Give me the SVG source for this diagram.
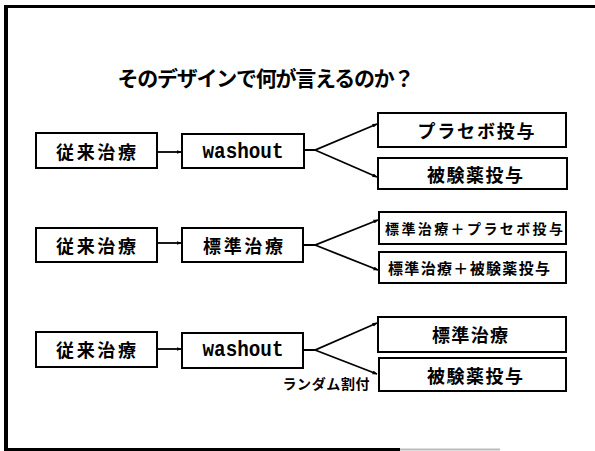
<svg xmlns="http://www.w3.org/2000/svg" width="595" height="451" viewBox="0 0 595 451">
<style>
.box{fill:#fff;stroke:#000;stroke-width:2}
.t{font-family:"Noto Sans CJK JP","Noto Sans CJK SC",sans-serif;font-weight:bold;fill:#000;text-anchor:middle;dominant-baseline:central}
.m{font-family:"Liberation Mono","DejaVu Sans Mono",monospace;font-weight:bold;fill:#000;text-anchor:middle;dominant-baseline:central}
.c{fill:none;stroke:#000;stroke-width:1.8}
</style>
<defs>
<marker id="ah" viewBox="0 0 10 10" refX="9" refY="5" markerWidth="5" markerHeight="5" orient="auto" markerUnits="userSpaceOnUse"><path d="M0,1 L10,5 L0,9 z" fill="#000"/></marker>
</defs>
<rect width="595" height="451" fill="#fff"/>
<g id="frame">
<line x1="4" y1="6.5" x2="595" y2="6.5" stroke="#000" stroke-width="3"/>
<line x1="6" y1="5" x2="6" y2="451" stroke="#000" stroke-width="4"/>
<line x1="4" y1="449.5" x2="400" y2="449.5" stroke="#000" stroke-width="3"/>
<line x1="400" y1="449.5" x2="500" y2="449.5" stroke="#bbb" stroke-width="2"/>
</g>
<g id="title"><text class="t" x="266" y="77" font-size="21" textLength="297" lengthAdjust="spacing">そのデザインで何が言えるのか？</text></g>
<g id="r1a"><rect class="box" x="36" y="133" width="121" height="35"/><text class="t" x="96" y="151" font-size="18" textLength="80" lengthAdjust="spacing">従来治療</text></g>
<g id="r1b"><rect class="box" x="182" y="134" width="122" height="34"/><text class="m" x="243" y="152" font-size="22" textLength="81" lengthAdjust="spacingAndGlyphs">washout</text></g>
<g id="r1c"><rect class="box" x="378" y="113" width="188" height="34"/><text class="t" x="476" y="130" font-size="18" textLength="117" lengthAdjust="spacing">プラセボ投与</text></g>
<g id="r1d"><rect class="box" x="378" y="158" width="189" height="31"/><text class="t" x="475" y="173.5" font-size="18" textLength="96" lengthAdjust="spacing">被験薬投与</text></g>
<g id="r2a"><rect class="box" x="36" y="228" width="121" height="34"/><text class="t" x="96" y="245" font-size="18" textLength="80" lengthAdjust="spacing">従来治療</text></g>
<g id="r2b"><rect class="box" x="182" y="228" width="121" height="34"/><text class="t" x="243" y="245" font-size="18" textLength="80" lengthAdjust="spacing">標準治療</text></g>
<g id="r2c"><rect class="box" x="379" y="212" width="187" height="32"/><text class="t" x="474" y="228" font-size="14" textLength="178" lengthAdjust="spacing">標準治療＋プラセボ投与</text></g>
<g id="r2d"><rect class="box" x="379" y="252" width="187" height="31"/><text class="t" x="469" y="267.5" font-size="15" textLength="162" lengthAdjust="spacing">標準治療＋被験薬投与</text></g>
<g id="r3a"><rect class="box" x="36" y="332" width="121" height="35"/><text class="t" x="96" y="349" font-size="18" textLength="80" lengthAdjust="spacing">従来治療</text></g>
<g id="r3b"><rect class="box" x="182" y="333" width="121" height="35"/><text class="m" x="243" y="350" font-size="22" textLength="81" lengthAdjust="spacingAndGlyphs">washout</text></g>
<g id="r3c"><rect class="box" x="378" y="317" width="188" height="35"/><text class="t" x="470" y="334" font-size="18" textLength="76" lengthAdjust="spacing">標準治療</text></g>
<g id="r3d"><rect class="box" x="379" y="358" width="187" height="33"/><text class="t" x="475" y="374.5" font-size="18" textLength="96" lengthAdjust="spacing">被験薬投与</text></g>
<g id="label"><text class="t" x="326" y="383" font-size="14" textLength="87" lengthAdjust="spacing">ランダム割付</text></g>
<g id="connectors">
<line class="c" x1="157" y1="152" x2="181" y2="152" marker-end="url(#ah)"/>
<polyline class="c" points="304,150 315,150 377,124" marker-end="url(#ah)"/>
<polyline class="c" points="315,150 377,177" marker-end="url(#ah)"/>
<line class="c" x1="157" y1="243" x2="181" y2="243" marker-end="url(#ah)"/>
<polyline class="c" points="303,245 315,245 378,220" marker-end="url(#ah)"/>
<polyline class="c" points="315,245 378,270" marker-end="url(#ah)"/>
<line class="c" x1="157" y1="349" x2="181" y2="349" marker-end="url(#ah)"/>
<polyline class="c" points="303,350 315,350 377,323" marker-end="url(#ah)"/>
<polyline class="c" points="315,350 377,374" marker-end="url(#ah)"/>
</g>
</svg>
